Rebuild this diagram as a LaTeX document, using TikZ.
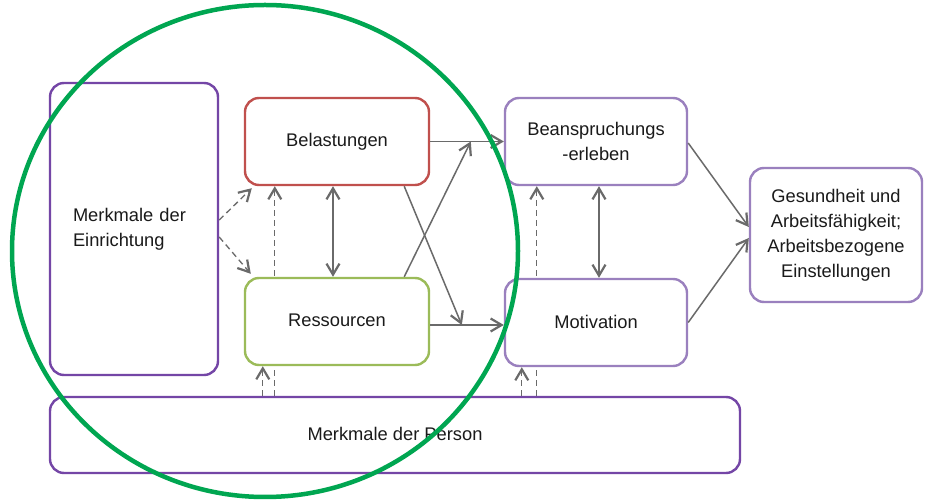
\documentclass[tikz,border=0pt]{standalone}
\usepackage{fontspec}
\setmainfont{Liberation Sans}
\usetikzlibrary{arrows.meta,calc,backgrounds}
\definecolor{dpurple}{HTML}{7446A6}
\definecolor{lpurple}{HTML}{9A80BE}
\definecolor{bred}{HTML}{C0504D}
\definecolor{bgreen}{HTML}{9BBB59}
\definecolor{ringgreen}{HTML}{00A651}
\definecolor{arrgray}{HTML}{6A6A6A}
\definecolor{txt}{HTML}{1A1A1A}
\tikzset{
  box/.style={draw, line width=2.4pt, rounded corners=14pt, fill=white, align=center,
    text=txt, font=\fontsize{18.3}{25}\selectfont, inner sep=0pt},
  conn/.style={draw=arrgray, line width=1.5pt},
  tipped/.style={-{Straight Barb[length=11pt,width=13pt,line width=2.2pt]}},
  twotipped/.style={{Straight Barb[length=11pt,width=13pt,line width=2.2pt]}-{Straight Barb[length=11pt,width=13pt,line width=2.2pt]}},
  dashconn/.style={conn, dash pattern=on 6pt off 4pt, line width=1.3pt}
}
\begin{document}
\begin{tikzpicture}[x=1pt,y=-1pt]
\useasboundingbox (0,0) rectangle (930,502);

\node[box, draw=dpurple, minimum width=168pt, minimum height=292pt, text width=122pt, align=left, inner xsep=23pt] (einr) at (134,229) {Merkmale der\\Einrichtung};
\node[box, draw=bred, minimum width=184pt, minimum height=87pt] (bel) at (337,141.5) {\raisebox{4pt}{Belastungen}};
\node[box, draw=bgreen, minimum width=184pt, minimum height=87pt] (res) at (337,321.5) {\raisebox{3pt}{Ressourcen}};
\node[box, draw=lpurple, minimum width=182pt, minimum height=87pt] (bean) at (596,141.5) {Beanspruchungs\\-erleben};
\node[box, draw=lpurple, minimum width=182pt, minimum height=87pt] (mot) at (596,322.5) {\raisebox{1pt}{Motivation}};
\node[box, draw=lpurple, minimum width=172pt, minimum height=134pt] (ges) at (836,235) {Gesundheit und\\Arbeitsfähigkeit;\\Arbeitsbezogene\\Einstellungen};
\node[box, draw=dpurple, minimum width=690pt, minimum height=76pt] (pers) at (395,435) {\raisebox{2pt}{Merkmale der Person}};

% helper coordinates
\coordinate (d1) at ($(bel.south west)+(31,0)$);
\coordinate (d2) at ($(res.south west)+(19,0)$);
\coordinate (d3) at ($(bel.south)+(-4,0)$);
\coordinate (m1) at ($(bean.south west)+(33,0)$);
\coordinate (m2) at ($(mot.south west)+(18,0)$);
\coordinate (m3) at ($(bean.south)+(3,0)$);
\coordinate (h1) at (bel.east);
\coordinate (h2) at ($(res.east)+(0,3.5)$);
\coordinate (x1) at ($(bel.south east)+(-26,0)$);
\coordinate (x2) at ($(res.north east)+(-26,0)$);
\coordinate (e1) at ($(h2 -| mot.west)+(-42,0)$);
\coordinate (e2) at ($(h1 -| bean.west)+(-33,0)$);

\begin{pgfonlayer}{background}
\fill[white] (0,0) rectangle (930,502);
\draw[dashconn, tipped] (d1 |- pers.north) -- (d1);
\draw[dashconn, tipped] (m1 |- pers.north) -- (m1);
\end{pgfonlayer}

\draw[dashconn, tipped] ([yshift=9pt]einr.east) -- ([xshift=8pt,yshift=-2pt]bel.south west);
\draw[dashconn, tipped] ([yshift=-8pt]einr.east) -- ([xshift=7pt,yshift=3pt]res.north west);
\draw[dashconn, tipped] (d2 |- pers.north) -- (d2);
\draw[dashconn, tipped] (m2 |- pers.north) -- (m2);

\draw[conn, twotipped] (d3) -- (d3 |- res.north);
\draw[conn, twotipped] (m3) -- (m3 |- mot.north);

\draw[conn, tipped] (h1) -- (h1 -| bean.west);
\draw[conn, tipped] (h2) -- (h2 -| mot.west);
\draw[conn, tipped] (x1) -- (e1);
\draw[conn, tipped] (x2) -- (e2);

\draw[conn, tipped] ([yshift=-1.5pt]bean.east) -- ([yshift=8pt]ges.west);
\draw[conn, tipped] (mot.east) -- ([yshift=-3pt]ges.west);

\draw[ringgreen, line width=4.5pt] (265,251) ellipse [x radius=253pt, y radius=246pt];
\end{tikzpicture}
\end{document}
